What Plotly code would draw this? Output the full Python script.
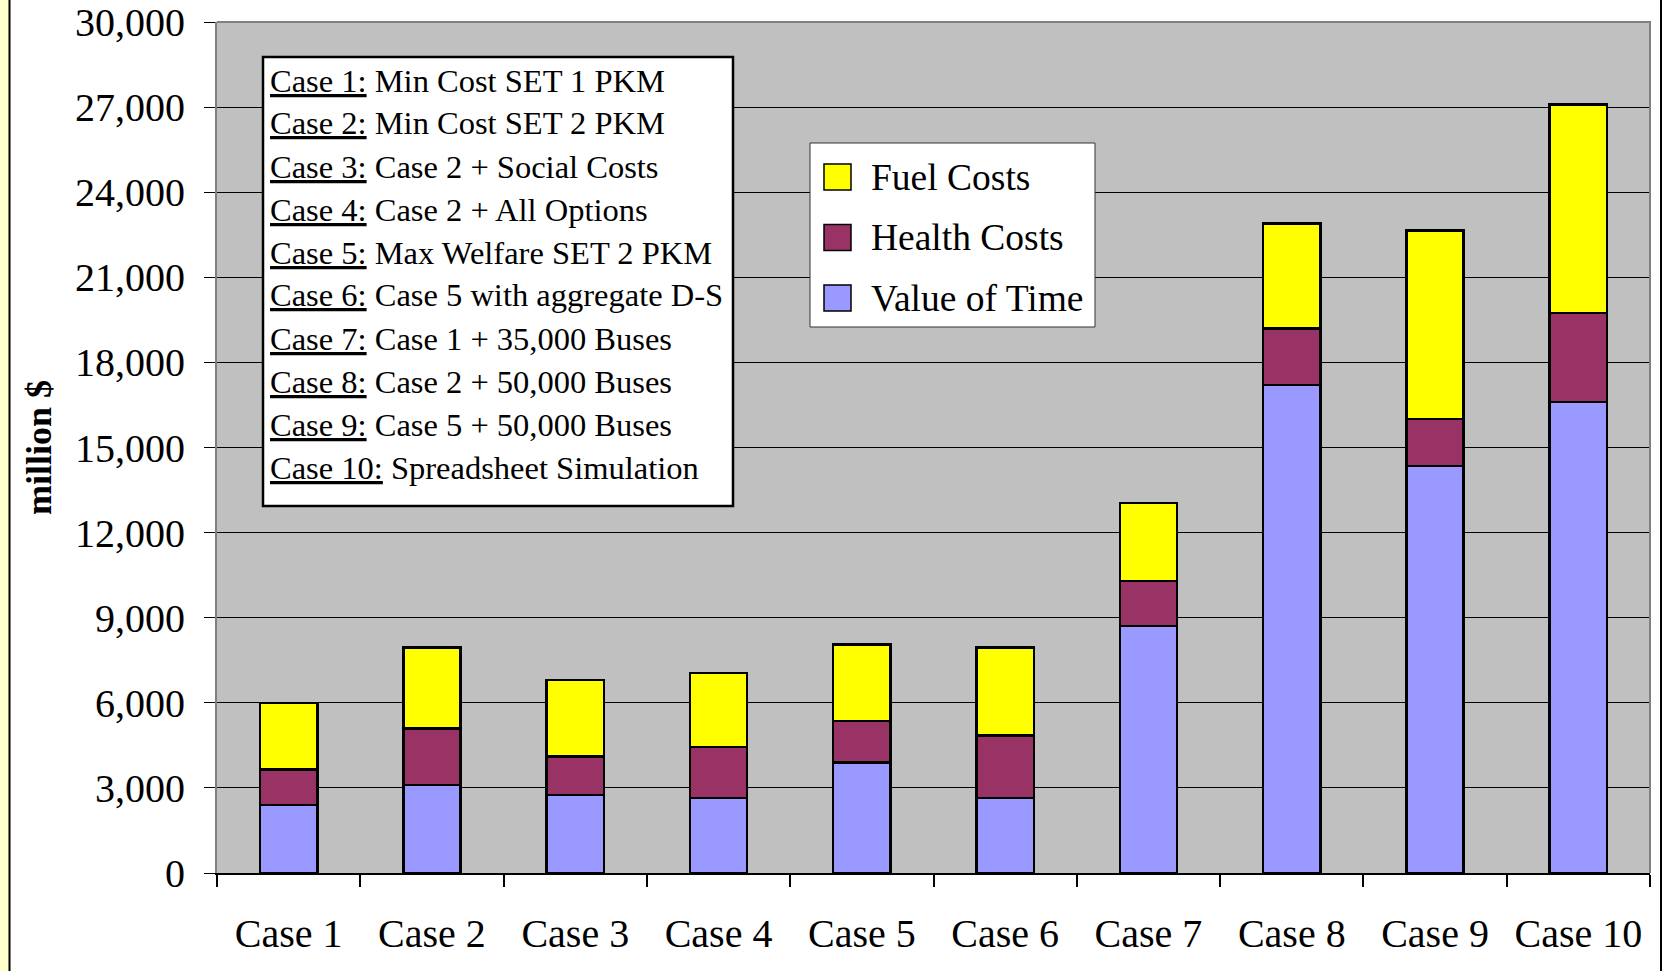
import plotly.graph_objects as go

# Cost breakdown per scenario (million $)
cases = ["Case 1", "Case 2", "Case 3", "Case 4", "Case 5",
         "Case 6", "Case 7", "Case 8", "Case 9", "Case 10"]
value_of_time = [2400, 3100, 2750, 2650, 3900, 2650, 8700, 17200, 14350, 16600]
health_costs = [1250, 2000, 1350, 1800, 1450, 2200, 1600, 2000, 1650, 3150]
fuel_costs = [2350, 2850, 2700, 2600, 2700, 3100, 2750, 3700, 6650, 7350]

series_names = ["Value of Time", "Health Costs", "Fuel Costs"]
series_colors = ["#9999FF", "#993366", "#FFFF00"]
series_values = [value_of_time, health_costs, fuel_costs]

y_ticks = list(range(0, 30001, 3000))

case_notes = [
    ("Case 1:", "Min Cost SET 1 PKM"),
    ("Case 2:", "Min Cost SET 2 PKM"),
    ("Case 3:", "Case 2 + Social Costs"),
    ("Case 4:", "Case 2 + All Options"),
    ("Case 5:", "Max Welfare SET 2 PKM"),
    ("Case 6:", "Case 5 with aggregate D-S"),
    ("Case 7:", "Case 1 + 35,000 Buses"),
    ("Case 8:", "Case 2 + 50,000 Buses"),
    ("Case 9:", "Case 5 + 50,000 Buses"),
    ("Case 10:", "Spreadsheet Simulation"),
]

W, H = 1664, 971
ML, MR, MT, MB = 217, 14, 22, 98
PW, PH = W - ML - MR, H - MT - MB
FONT = "Liberation Serif, Times New Roman, serif"


def fx(px):
    """Pixel x on the page -> paper x."""
    return (px - ML) / PW


def fy(py):
    """Pixel y on the page -> paper y."""
    return (H - MB - py) / PH


fig = go.Figure()
for name, color, vals in zip(series_names, series_colors, series_values):
    fig.add_trace(go.Bar(
        x=cases, y=vals, name=name,
        marker=dict(color=color, line=dict(color="black", width=2.5)),
        showlegend=False,
    ))

shapes = []
annotations = []

# page frame: pale strip on the left, dark rules at both sides
shapes.append(dict(type="rect", xref="paper", yref="paper",
                   x0=fx(0), x1=fx(9), y0=fy(H), y1=fy(0),
                   fillcolor="#FFFFCC", line=dict(width=0), layer="below"))
shapes.append(dict(type="line", xref="paper", yref="paper",
                   x0=fx(9.5), x1=fx(9.5), y0=fy(H), y1=fy(0),
                   line=dict(color="black", width=2)))
shapes.append(dict(type="line", xref="paper", yref="paper",
                   x0=fx(1661), x1=fx(1661), y0=fy(H), y1=fy(0),
                   line=dict(color="black", width=2)))

# grey border along the top and right of the plot area
shapes.append(dict(type="path", xref="paper", yref="paper",
                   path="M 0,1 L 1,1 L 1,0",
                   line=dict(color="#808080", width=2), layer="above"))

# box listing the scenario definitions
shapes.append(dict(type="rect", xref="paper", yref="paper",
                   x0=fx(263), x1=fx(733), y0=fy(506), y1=fy(57),
                   fillcolor="white", line=dict(color="black", width=2.5),
                   layer="above"))
for i, (label, desc) in enumerate(case_notes):
    annotations.append(dict(
        xref="paper", yref="paper", x=fx(268), y=fy(80.5 + i * 43),
        xanchor="left", yanchor="middle", showarrow=False,
        text=f"<u>{label}</u> {desc}",
        font=dict(family=FONT, size=32.5, color="black"),
    ))

# legend box with large swatches, top entry = top of stack
shapes.append(dict(type="rect", xref="paper", yref="paper",
                   x0=fx(810), x1=fx(1095), y0=fy(327), y1=fy(143),
                   fillcolor="white", line=dict(color="#333333", width=1),
                   layer="above"))
for j, idx in enumerate([2, 1, 0]):
    yc = 177 + j * 60.5
    shapes.append(dict(type="rect", xref="paper", yref="paper",
                       x0=fx(824), x1=fx(851), y0=fy(yc + 13), y1=fy(yc - 13),
                       fillcolor=series_colors[idx],
                       line=dict(color="black", width=1.5), layer="above"))
    annotations.append(dict(
        xref="paper", yref="paper", x=fx(869), y=fy(yc),
        xanchor="left", yanchor="middle", showarrow=False,
        text=series_names[idx],
        font=dict(family=FONT, size=37.5, color="black"),
    ))

fig.update_layout(
    width=W, height=H,
    margin=dict(l=ML, r=MR, t=MT, b=MB, autoexpand=False),
    barmode="stack", bargap=0.6,
    paper_bgcolor="white", plot_bgcolor="#C0C0C0",
    font=dict(family=FONT, color="black"),
    shapes=shapes, annotations=annotations,
    xaxis=dict(
        type="category", range=[-0.5, 9.5],
        tickson="boundaries", ticks="outside", ticklen=12,
        tickcolor="black", tickwidth=1.5,
        showline=True, linecolor="black", linewidth=2,
        showgrid=False, ticklabelstandoff=24,
        tickfont=dict(family=FONT, size=40, color="black"),
    ),
    yaxis=dict(
        range=[0, 30000], tickvals=y_ticks, tickformat=",d",
        ticks="outside", ticklen=11, tickcolor="black", tickwidth=1,
        showline=True, linecolor="#808080", linewidth=2,
        showgrid=True, gridcolor="black", gridwidth=1, zeroline=False,
        ticklabelstandoff=11,
        tickfont=dict(family=FONT, size=40, color="black"),
        title=dict(text="<b>million $</b>", standoff=12,
                   font=dict(family=FONT, size=36, color="black")),
    ),
)

fig.write_html("out.html")
